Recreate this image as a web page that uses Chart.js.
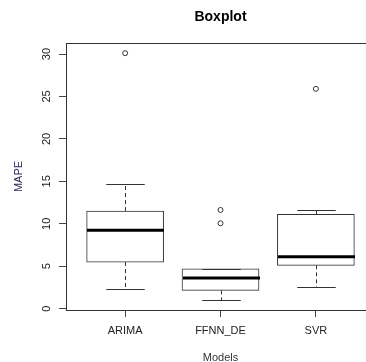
<!DOCTYPE html>
<html>
<head>
<meta charset="utf-8">
<script src="https://cdn.jsdelivr.net/npm/chart.js@4/dist/chart.umd.min.js"></script>
<style>
  html, body { margin: 0; padding: 0; background: #fff; overflow: hidden; }
  #wrap { width: 400px; height: 362px; }
</style>
</head>
<body>
<div id="wrap"><canvas id="boxChart" width="400" height="362"></canvas></div>
<script>
'use strict';

// box statistics
var models = ['ARIMA', 'FFNN_DE', 'SVR'];
var lowerWhisker = [2.27, 0.97, 2.5];
var firstQuartile = [5.49, 2.15, 5.1];
var medians = [9.23, 3.6, 6.1];
var thirdQuartile = [11.5, 4.7, 11.1];
var upperWhisker = [14.7, 4.7, 11.6];

// outliers (model index, value)
var outlierModel = [0, 1, 1, 2];
var outlierValue = [30.1, 11.63, 10.06, 25.9];

var yTicks = [0, 5, 10, 15, 20, 25, 30];

var FONT = '"Liberation Sans", Arial, sans-serif';

var boxData = models.map(function(m, i) {
    return { x: i, y: [firstQuartile[i], thirdQuartile[i]] };
});
var outlierData = outlierModel.map(function(m, i) {
    return { x: m, y: outlierValue[i] };
});

//draws whiskers, medians, the frame and all the texts like R does
var rBoxPlugin = {
    id: 'rBox',
    afterDatasetsDraw: function(chart) {
        var ctx = chart.ctx;
        var xs = chart.scales.x;
        var ys = chart.scales.y;
        var area = chart.chartArea;
        var boxW = 77;
        var capW = boxW / 2;

        ctx.save();
        models.forEach(function(m, i) {
            var cx = Math.round(xs.getPixelForValue(i)) + 0.5;
            var yLo = ys.getPixelForValue(lowerWhisker[i]);
            var yQ1 = ys.getPixelForValue(firstQuartile[i]);
            var yQ3 = ys.getPixelForValue(thirdQuartile[i]);
            var yHi = ys.getPixelForValue(upperWhisker[i]);
            var yMed = ys.getPixelForValue(medians[i]);

            ctx.strokeStyle = '#333';
            ctx.lineWidth = 1;
            ctx.setLineDash([4, 3]);
            ctx.beginPath();
            ctx.moveTo(cx, yQ1); ctx.lineTo(cx, yLo);
            if (yHi < yQ3 - 0.5) { ctx.moveTo(cx, yQ3); ctx.lineTo(cx, yHi); }
            ctx.stroke();
            ctx.setLineDash([]);

            ctx.beginPath();
            ctx.moveTo(cx - capW / 2, Math.round(yLo) + 0.5);
            ctx.lineTo(cx + capW / 2, Math.round(yLo) + 0.5);
            ctx.moveTo(cx - capW / 2, Math.round(yHi) + 0.5);
            ctx.lineTo(cx + capW / 2, Math.round(yHi) + 0.5);
            ctx.stroke();

            //thick median
            ctx.strokeStyle = '#000';
            ctx.lineWidth = 3;
            ctx.beginPath();
            ctx.moveTo(cx - boxW / 2, yMed);
            ctx.lineTo(cx + boxW / 2, yMed);
            ctx.stroke();
        });

        //frame round the plot region
        ctx.strokeStyle = '#333';
        ctx.lineWidth = 1;
        ctx.strokeRect(Math.round(area.left) + 0.5, Math.round(area.top) + 0.5,
            Math.round(area.right - area.left), Math.round(area.bottom - area.top));

        //y tick labels, turned like R
        ctx.fillStyle = '#222';
        ctx.font = '11px ' + FONT;
        ctx.textAlign = 'center';
        ctx.textBaseline = 'middle';
        yTicks.forEach(function(t) {
            ctx.save();
            ctx.translate(47, ys.getPixelForValue(t));
            ctx.rotate(-Math.PI / 2);
            ctx.fillText(String(t), 0, 0);
            ctx.restore();
        });

        //x tick labels
        models.forEach(function(m, i) {
            ctx.fillText(m, xs.getPixelForValue(i), 331);
        });

        //axis titles
        ctx.fillStyle = '#333';
        ctx.fillText('Models', xs.getPixelForValue(1), 358);
        ctx.save();
        ctx.fillStyle = '#2b2b58';
        ctx.translate(19, (area.top + area.bottom) / 2);
        ctx.rotate(-Math.PI / 2);
        ctx.fillText('MAPE', 0, 0);
        ctx.restore();

        //main title
        ctx.fillStyle = '#000';
        ctx.font = 'bold 14px ' + FONT;
        ctx.fillText('Boxplot', xs.getPixelForValue(1), 17);
        ctx.restore();
    }
};

var ctx = document.getElementById('boxChart').getContext('2d');
window.boxChart = new Chart(ctx, {
    type: 'bar',
    data: {
        datasets: [{
            type: 'bar',
            data: boxData,
            backgroundColor: '#ffffff',
            borderColor: '#333',
            borderWidth: 1,
            borderSkipped: false,
            barThickness: 77,
            order: 2
        }, {
            type: 'scatter',
            data: outlierData,
            pointStyle: 'circle',
            pointRadius: 2.5,
            pointBorderWidth: 1,
            pointBorderColor: '#333',
            pointBackgroundColor: 'rgba(0,0,0,0)',
            order: 1
        }]
    },
    options: {
        responsive: false,
        animation: false,
        layout: { padding: { top: 43, right: 25, left: 0, bottom: 0 } },
        plugins: {
            legend: { display: false },
            tooltip: { enabled: false },
            title: { display: false }
        },
        scales: {
            x: {
                type: 'linear',
                min: -0.62,
                max: 2.62,
                offset: false,
                afterFit: function(s) { s.height = 52; },
                afterBuildTicks: function(s) {
                    s.ticks = models.map(function(m, i) { return { value: i }; });
                },
                ticks: { display: false },
                border: { display: false },
                grid: { drawOnChartArea: false, drawTicks: true, tickLength: 7, color: '#444', offset: false }
            },
            y: {
                min: -0.16,
                max: 31.3,
                afterFit: function(s) { s.width = 66; },
                afterBuildTicks: function(s) {
                    s.ticks = yTicks.map(function(t) { return { value: t }; });
                },
                ticks: { display: false },
                border: { display: false },
                grid: { drawOnChartArea: false, drawTicks: true, tickLength: 7, color: '#444' }
            }
        }
    },
    plugins: [rBoxPlugin]
});
</script>
</body>
</html>
